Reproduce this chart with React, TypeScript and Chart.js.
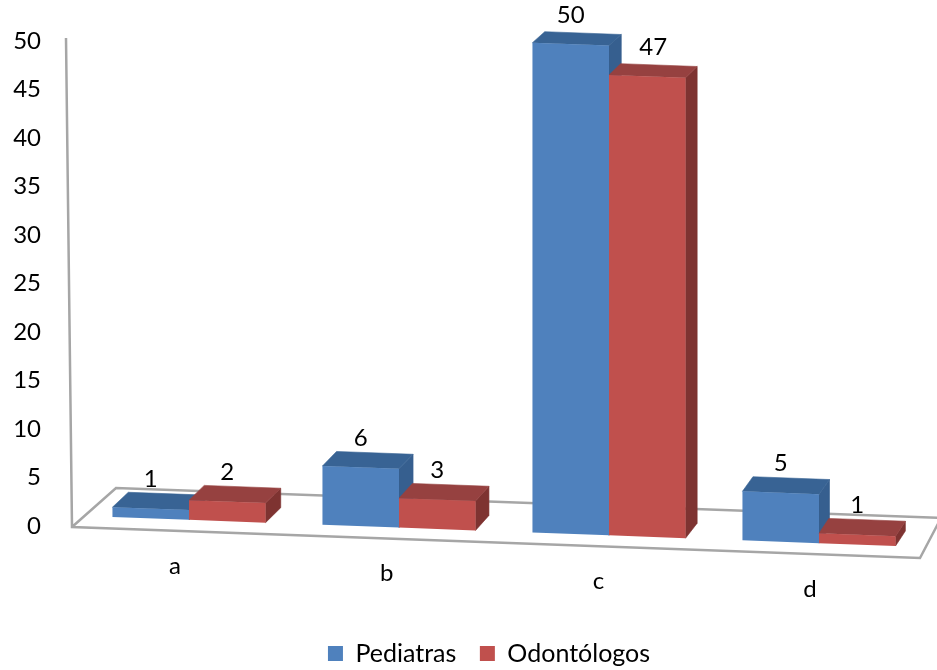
import React, { useEffect, useRef } from "react";
import { Chart, registerables } from "chart.js";

Chart.register(...registerables);

const categories = ["a", "b", "c", "d"];
const pediatras = [1, 6, 50, 5];
const odontologos = [2, 3, 47, 1];
const yTicks = [0, 5, 10, 15, 20, 25, 30, 35, 40, 45, 50];

const FONT = "Lato";
const SKEW = 0.037;
const PIVOT_X = 356;
const STRETCH = 1.01;
const FACE_COLORS = [
  { top: "#386394", side: "#365f8f" },
  { top: "#964140", side: "#7e3331" },
];

const bars3d = {
  id: "bars3d",
  afterLayout(chart: any) {
    chart.legend.left += 27;
    chart.legend.right += 27;
  },
  beforeDatasetsDraw(chart: any) {
    const { ctx, chartArea, scales } = chart;
    const y0 = scales.y.getPixelForValue(0);
    const warp = (x: number, y: number): [number, number] => [
      x,
      y0 + SKEW * (x - PIVOT_X) + STRETCH * (y - y0),
    ];
    const poly = (pts: [number, number][], fill: string) => {
      ctx.beginPath();
      pts.forEach((p, i) => (i ? ctx.lineTo(p[0], p[1]) : ctx.moveTo(p[0], p[1])));
      ctx.closePath();
      ctx.fillStyle = fill;
      ctx.fill();
      ctx.strokeStyle = fill;
      ctx.lineWidth = 0.6;
      ctx.stroke();
    };

    // walls and floor outline
    ctx.save();
    ctx.strokeStyle = "#a6a6a6";
    ctx.lineWidth = 2.5;
    ctx.lineJoin = "miter";
    const fl: [number, number] = [chartArea.left - 12, y0 + 1];
    const fr: [number, number] = [chartArea.right - 4, y0 + 32];
    ctx.beginPath();
    ctx.moveTo(chartArea.left - 18, chartArea.top - 3);
    ctx.lineTo(fl[0], fl[1]);
    ctx.lineTo(fr[0], fr[1]);
    ctx.lineTo(fr[0] + 21, fr[1] - 40);
    ctx.lineTo(fl[0] + 44, fl[1] - 39);
    ctx.lineTo(fl[0], fl[1]);
    ctx.stroke();
    ctx.restore();

    // bars: first series behind the second
    [0, 1].forEach((di) => {
      const meta = chart.getDatasetMeta(di);
      meta.data.forEach((bar: any, i: number) => {
        const v = chart.data.datasets[di].data[i];
        const L = bar.x - bar.width / 2;
        const R = bar.x + bar.width / 2;
        const dx = 16.5 - 0.0085 * (R - 113);
        const dy = -15 + 0.08 * v;
        const tl = warp(L, bar.y);
        const tr = warp(R, bar.y);
        const br = warp(R, bar.base);
        poly(
          [tr, [tr[0] + dx, tr[1] + dy], [br[0] + dx, br[1] - 15], br],
          FACE_COLORS[di].side
        );
        poly(
          [tl, tr, [tr[0] + dx, tr[1] + dy], [tl[0] + dx, tl[1] + dy]],
          FACE_COLORS[di].top
        );
        ctx.save();
        ctx.transform(1, SKEW, 0, STRETCH, 0, y0 - SKEW * PIVOT_X - STRETCH * y0);
        bar.draw(ctx);
        ctx.restore();
      });
    });

    // value labels
    ctx.save();
    ctx.fillStyle = "#000";
    ctx.font = `24px ${FONT}`;
    ctx.textAlign = "center";
    ctx.textBaseline = "middle";
    [0, 1].forEach((di) => {
      chart.getDatasetMeta(di).data.forEach((bar: any, i: number) => {
        const p = warp(bar.x, bar.y);
        const nudge = di === 1 && i === 2 ? 6 : 0;
        ctx.fillText(String(chart.data.datasets[di].data[i]), p[0] + nudge, p[1] - 29);
      });
    });

    // category labels follow the tilted floor
    chart.data.labels.forEach((label: string, i: number) => {
      const x = scales.x.getPixelForTick(i);
      const p = warp(x, y0);
      ctx.fillText(label, x - (14 - 0.008 * (x - 189)), p[1] + 46);
    });
    ctx.restore();
    return false;
  },
};

export default function App() {
  const ref = useRef<HTMLCanvasElement>(null);
  useEffect(() => {
    const chart = new Chart(ref.current!, {
      type: "bar",
      data: {
        labels: categories,
        datasets: [
          { label: "Pediatras", data: pediatras, backgroundColor: "#4f81bd" },
          { label: "Odontólogos", data: odontologos, backgroundColor: "#c0504d" },
        ],
      },
      options: {
        responsive: false,
        animation: false,
        layout: { padding: { top: 41, right: 13, left: 0, bottom: -6 } },
        datasets: { bar: { categoryPercentage: 0.729, barPercentage: 1 } },
        scales: {
          x: {
            grid: { display: false },
            border: { display: false },
            ticks: { display: false },
            afterFit: (s: any) => {
              s.height = 91.5;
            },
          },
          y: {
            min: 0,
            max: 50,
            afterBuildTicks: (s: any) => {
              s.ticks = yTicks.map((value) => ({ value }));
            },
            grid: { display: false, drawTicks: false },
            border: { display: false },
            ticks: {
              color: "#000",
              padding: 43,
              font: { family: FONT, size: 24 },
            },
            afterFit: (s: any) => {
              s.width = 84;
              s.paddingTop = 0;
              s.paddingBottom = 0;
            },
          },
        },
        plugins: {
          tooltip: { enabled: false },
          legend: {
            position: "bottom",
            labels: {
              color: "#000",
              boxWidth: 15,
              boxHeight: 15,
              padding: 23.5,
              font: { family: FONT, size: 25 },
            },
          },
        },
      },
      plugins: [bars3d],
    } as any);
    return () => chart.destroy();
  }, []);
  return (
    <div style={{ position: "fixed", left: 0, top: 0, background: "#fff" }}>
      <canvas ref={ref} width={937} height={670} style={{ display: "block" }} />
    </div>
  );
}
